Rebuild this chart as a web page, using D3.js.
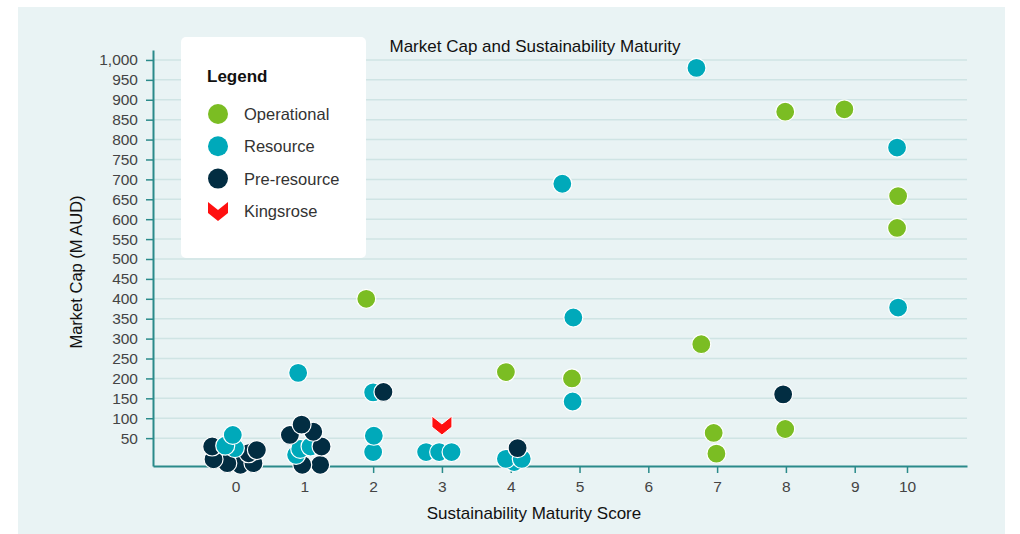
<!DOCTYPE html>
<html>
<head>
<meta charset="utf-8">
<script src="https://cdn.jsdelivr.net/npm/d3@7"></script>
<style>
  body { margin: 0; background: #ffffff; }
  text { font-family: "Liberation Sans", Arial, sans-serif; }
</style>
</head>
<body>
<script>
// values (score, market cap in M AUD)
const operationalScore = [1.90, 3.93, 4.89, 6.77, 6.95, 6.99, 7.99, 7.99, 8.85, 9.83, 9.81];
const operationalCap   = [400, 216, 200, 286, 63, 11, 870, 73, 876, 658, 578];

const resourceScore = [6.70, 4.75, 4.91, 4.90, 9.81, 9.83, 0.91, 2.00, 2.01, 2.00, 2.77, 2.96, 3.14,
                       3.93, 4.05, 4.16, -0.04, -0.15, -0.01, 0.88, 0.94, 1.09];
const resourceCap   = [980, 689, 353, 142, 780, 378, 214, 165, 56, 15, 15, 15, 15,
                       -2, -10, -2, 58, 31, 25, 8, 23, 29];

const preResourceScore = [2.15, 7.96, 4.10, -0.34, -0.32, -0.12, 0.07, 0.26, 0.31, 0.19,
                          0.79, 0.96, 1.13, 1.25, 1.23, 0.97];
const preResourceCap   = [166, 160, 25, 29, -3, -13, -17, -13, 20, 12,
                          58, 84, 66, 29, -17, -17];

const kingsroseScore = [3.0];
const kingsroseCap   = [83];

const xTicks = [0, 1, 2, 3, 4, 5, 6, 7, 8, 9, 10];
const yTicks = [50, 100, 150, 200, 250, 300, 350, 400, 450, 500, 550, 600, 650, 700, 750, 800, 850, 900, 950, 1000];

const legendLabels = ["Operational", "Resource", "Pre-resource", "Kingsrose"];

const colors = {
    "Operational": "#7bbd23",
    "Resource": "#00a9ba",
    "Pre-resource": "#022d42",
    "Kingsrose": "#ff1010"
};

function zip(scores, caps, group) {
    return scores.map((s, i) => ({ score: s, cap: caps[i], group: group }));
}

function createChart() {
    const width = 1020;
    const height = 534;
    const margin = { top: 50, right: 53, bottom: 68, left: 153 };
    const axisColor = "#2a8a8a";

    const svg = d3.select("body")
        .append("svg")
        .attr("width", width)
        .attr("height", height);

    // panel background
    svg.append("rect")
        .attr("x", 18)
        .attr("y", 7)
        .attr("width", 987)
        .attr("height", 527)
        .attr("fill", "#e9f3f4");

    // Scales (the last category sits closer to 9 than the others)
    const x = d3.scaleLinear()
        .domain([-1.2, 9, 10, 10.87])
        .range([margin.left, 854.7, 907, width - margin.right]);

    const y = d3.scaleLinear()
        .domain([-20, 1025])
        .range([height - margin.bottom, margin.top]);

    // grid lines
    svg.append("g")
        .selectAll("line")
        .data(yTicks)
        .join("line")
        .attr("x1", margin.left)
        .attr("x2", width - margin.right)
        .attr("y1", d => y(d))
        .attr("y2", d => y(d))
        .attr("stroke", "#cfe4e4")
        .attr("stroke-width", 1.5);

    // Axes
    const xAxis = svg.append("g")
        .attr("transform", `translate(0,${height - margin.bottom})`)
        .call(d3.axisBottom(x).tickValues(xTicks).tickSize(7).tickPadding(8).tickSizeOuter(0));

    const yAxis = svg.append("g")
        .attr("transform", `translate(${margin.left},0)`)
        .call(d3.axisLeft(y).tickValues(yTicks).tickFormat(d3.format(",")).tickSize(7).tickPadding(8).tickSizeOuter(0));

    [xAxis, yAxis].forEach(g => {
        g.select(".domain").attr("stroke", axisColor).attr("stroke-width", 2);
        g.selectAll(".tick line").attr("stroke", axisColor).attr("stroke-width", 1.5);
        g.selectAll(".tick text")
            .attr("fill", "#444")
            .style("font-size", "15.5px")
            .style("font-family", "'Liberation Sans', Arial, sans-serif");
    });

    // titles
    svg.append("text")
        .attr("x", 535)
        .attr("y", 52)
        .attr("text-anchor", "middle")
        .attr("fill", "#111")
        .style("font-size", "17px")
        .text("Market Cap and Sustainability Maturity");

    svg.append("text")
        .attr("x", 534)
        .attr("y", 519)
        .attr("text-anchor", "middle")
        .attr("fill", "#111")
        .style("font-size", "17px")
        .text("Sustainability Maturity Score");

    svg.append("text")
        .attr("transform", "translate(82,272) rotate(-90)")
        .attr("text-anchor", "middle")
        .attr("fill", "#111")
        .style("font-size", "16.5px")
        .text("Market Cap (M AUD)");

    // Legend
    const legend = svg.append("g").attr("transform", "translate(181,37)");

    legend.append("rect")
        .attr("width", 185)
        .attr("height", 221)
        .attr("rx", 5)
        .attr("fill", "#ffffff");

    legend.append("text")
        .attr("x", 26)
        .attr("y", 45)
        .attr("fill", "#111")
        .style("font-size", "17px")
        .style("font-weight", "bold")
        .text("Legend");

    const item = legend.selectAll("g.item")
        .data(legendLabels)
        .join("g")
        .attr("class", "item")
        .attr("transform", (d, i) => `translate(37,${77 + i * 32.3})`);

    item.filter(d => d !== "Kingsrose")
        .append("circle")
        .attr("r", 10)
        .attr("fill", d => colors[d]);

    item.filter(d => d === "Kingsrose")
        .append("path")
        .attr("d", chevron())
        .attr("fill", colors["Kingsrose"]);

    item.append("text")
        .attr("x", 26)
        .attr("y", 6)
        .attr("fill", "#333")
        .style("font-size", "16.5px")
        .text(d => d);

    // Points, lower values drawn first
    const points = [
        ...zip(operationalScore, operationalCap, "Operational"),
        ...zip(resourceScore, resourceCap, "Resource"),
        ...zip(preResourceScore, preResourceCap, "Pre-resource")
    ].sort((a, b) => a.cap - b.cap);

    svg.append("g")
        .selectAll("circle")
        .data(points)
        .join("circle")
        .attr("cx", d => x(d.score))
        .attr("cy", d => y(d.cap))
        .attr("r", 9.5)
        .attr("fill", d => colors[d.group])
        .attr("stroke", "#ffffff")
        .attr("stroke-width", 1.2);

    svg.append("g")
        .selectAll("path")
        .data(zip(kingsroseScore, kingsroseCap, "Kingsrose"))
        .join("path")
        .attr("transform", d => `translate(${x(d.score)},${y(d.cap)})`)
        .attr("d", chevron())
        .attr("fill", colors["Kingsrose"])
        .attr("stroke", "#ffffff")
        .attr("stroke-width", 1);
}

// down-pointing chevron marker
function chevron() {
    return "M-10,-9L0,-1L10,-9L10,2L0,10L-10,2Z";
}

createChart();
</script>
</body>
</html>
